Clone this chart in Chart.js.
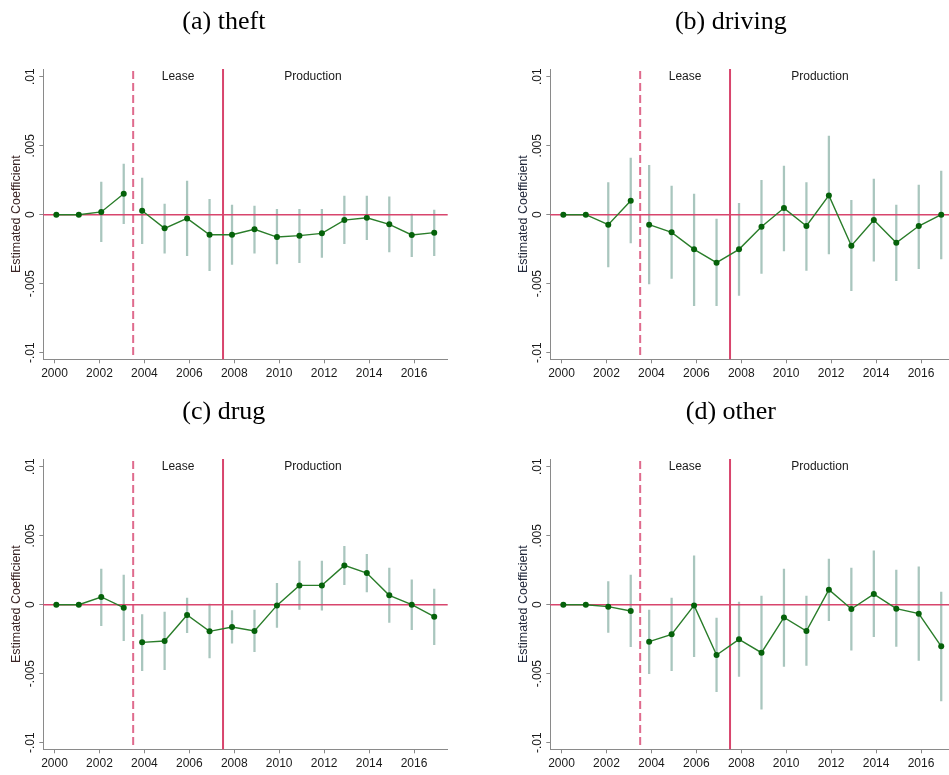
<!DOCTYPE html>
<html>
<head>
<meta charset="utf-8">
<script src="https://cdn.jsdelivr.net/npm/chart.js@4/dist/chart.umd.min.js"></script>
<style>
  html, body { margin: 0; padding: 0; background: #ffffff; overflow: hidden; width: 949px; height: 775px; }
  .panel { position: absolute; width: 475px; height: 390px; }
  canvas { display: block; }
</style>
</head>
<body>
<div class="panel" style="left:0px;top:0px"><canvas id="theft" width="475" height="390"></canvas></div>
<div class="panel" style="left:507px;top:0px"><canvas id="driving" width="475" height="390"></canvas></div>
<div class="panel" style="left:0px;top:390px"><canvas id="drug" width="475" height="390"></canvas></div>
<div class="panel" style="left:507px;top:390px"><canvas id="other" width="475" height="390"></canvas></div>
<script>
// Event-time positions of each estimate (pre-lease years, then lease/production years)
const eventX = [2000.08, 2001.08, 2002.08, 2003.08,
  2003.9, 2004.9, 2005.9, 2006.9, 2007.9, 2008.9, 2009.9, 2010.9, 2011.9,
  2012.9, 2013.9, 2014.9, 2015.9, 2016.9];
const preCount = 4;

const xTickYears = [2000, 2002, 2004, 2006, 2008, 2010, 2012, 2014, 2016];
const yTickValues = [-0.01, -0.005, 0, 0.005, 0.01];
const yTickLabels = ['-.01', '-.005', '0', '.005', '.01'];

const leaseStart = 2003.5;
const productionStart = 2007.5;
const leaseLabelX = 2005.5;
const productionLabelX = 2011.5;
const phaseLabelLevel = 0.01;

// (a) theft
const theftCoef = [0, 0, 0.0002, 0.00152, 0.00029, -0.00099, -0.00027, -0.00145, -0.00145, -0.00106, -0.00162, -0.00152, -0.00135, -0.00039, -0.00022, -0.0007, -0.00147, -0.0013];
const theftLo = [null, null, -0.00196, -0.00065, -0.0021, -0.00278, -0.00297, -0.00406, -0.0036, -0.00278, -0.00357, -0.00348, -0.00309, -0.0021, -0.00181, -0.0027, -0.00304, -0.00297];
const theftHi = [null, null, 0.00237, 0.00367, 0.00266, 0.00077, 0.00244, 0.00111, 0.0007, 0.00063, 0.00039, 0.00039, 0.00039, 0.00135, 0.00135, 0.0013, 0.00005, 0.00034];

// (b) driving
const drivingCoef = [0, 0, -0.00072, 0.00101, -0.00072, -0.00128, -0.00251, -0.00348, -0.00251, -0.00087, 0.00048, -0.00082, 0.0014, -0.00225, -0.00039, -0.00203, -0.00082, 0];
const drivingLo = [null, null, -0.00379, -0.00205, -0.00502, -0.00461, -0.00659, -0.00659, -0.00585, -0.00425, -0.00263, -0.00403, -0.00285, -0.00551, -0.00336, -0.00478, -0.00391, -0.00321];
const drivingHi = [null, null, 0.00232, 0.00411, 0.00357, 0.00208, 0.0015, -0.00031, 0.00082, 0.00249, 0.00353, 0.00232, 0.0057, 0.00104, 0.00258, 0.0007, 0.00215, 0.00316];

// (c) drug
const drugCoef = [0, 0, 0.00056, -0.00022, -0.00273, -0.00263, -0.00075, -0.00193, -0.00162, -0.00191, -0.00005, 0.0014, 0.0014, 0.00285, 0.00229, 0.00068, 0, -0.00087];
const drugLo = [null, null, -0.00152, -0.00261, -0.00478, -0.00471, -0.00203, -0.00386, -0.00278, -0.00341, -0.00164, -0.00034, -0.00039, 0.00145, 0.00092, -0.00128, -0.00181, -0.0029];
const drugHi = [null, null, 0.00258, 0.00215, -0.00072, -0.00053, 0.00048, 0.00005, -0.00043, -0.00039, 0.00155, 0.00316, 0.00316, 0.00423, 0.00365, 0.00266, 0.00181, 0.00114];

// (d) other
const otherCoef = [0, 0, -0.00014, -0.00046, -0.00268, -0.00215, -0.00005, -0.00365, -0.00251, -0.00348, -0.00092, -0.00191, 0.00109, -0.00031, 0.00077, -0.00029, -0.00065, -0.00302];
const otherLo = [null, null, -0.002, -0.00304, -0.005, -0.00478, -0.00377, -0.0063, -0.00519, -0.00758, -0.00447, -0.0044, -0.00116, -0.00329, -0.00232, -0.00302, -0.00403, -0.00698];
const otherHi = [null, null, 0.00167, 0.00215, -0.00039, 0.00048, 0.00355, -0.00097, 0.00019, 0.00063, 0.00258, 0.00063, 0.00331, 0.00266, 0.00391, 0.00251, 0.00275, 0.00092];

const SANS = '"Liberation Sans", Arial, Helvetica, sans-serif';
const SERIF = '"Liberation Serif", "Times New Roman", Times, serif';
const AXIS_GREY = '#8a8a8a';
const REF_RED = '#d8456d';
const REF_RED_DASH = '#df6b8d';
const LINE_GREEN = '#2a7d2a';
const POINT_GREEN = '#05620a';
const CI_COLOUR = '#a9c6be';

// Reference lines, rotated y tick labels and phase captions
const eventStudyDecor = {
  id: 'eventStudyDecor',
  beforeDatasetDraw(chart, args) {
    if (args.index !== 2) return;
    const { ctx, chartArea: a, scales: { x, y } } = chart;
    ctx.save();
    // vertical phase markers
    ctx.strokeStyle = REF_RED_DASH;
    ctx.lineWidth = 2;
    ctx.setLineDash([8, 4]);
    const xl = x.getPixelForValue(leaseStart);
    ctx.beginPath(); ctx.moveTo(xl, a.top + 2); ctx.lineTo(xl, a.bottom); ctx.stroke();
    ctx.setLineDash([]);
    ctx.strokeStyle = REF_RED;
    const xp = x.getPixelForValue(productionStart);
    ctx.beginPath(); ctx.moveTo(xp, a.top); ctx.lineTo(xp, a.bottom); ctx.stroke();
    // zero line
    ctx.lineWidth = 1.5;
    const y0 = y.getPixelForValue(0);
    ctx.beginPath(); ctx.moveTo(a.left, y0); ctx.lineTo(a.right, y0); ctx.stroke();
    ctx.restore();
  },
  afterDraw(chart) {
    const { ctx, scales: { x, y } } = chart;
    ctx.save();
    ctx.fillStyle = '#1a1a1a';
    ctx.font = '12px ' + SANS;
    ctx.textAlign = 'center';
    ctx.textBaseline = 'middle';
    const lx = y.right - 4 - 3 - 6;
    yTickValues.forEach((v, i) => {
      ctx.save();
      ctx.translate(lx, y.getPixelForValue(v));
      ctx.rotate(-Math.PI / 2);
      ctx.fillText(yTickLabels[i], 0, 0);
      ctx.restore();
    });
    const ly = y.getPixelForValue(phaseLabelLevel);
    ctx.fillText('Lease', x.getPixelForValue(leaseLabelX), ly);
    ctx.fillText('Production', x.getPixelForValue(productionLabelX), ly);
    ctx.restore();
  }
};

function buildPanel(canvasId, title, coef, lo, hi, titleColour) {
  const pts = eventX.map((x, i) => ({ x: x, y: coef[i] }));
  const ci = eventX.map((x, i) => ({ x: x, y: (lo[i] === null ? null : [lo[i], hi[i]]) }));
  new Chart(document.getElementById(canvasId), {
    type: 'line',
    data: {
      datasets: [
        {
          type: 'bar', data: ci, order: 3,
          backgroundColor: CI_COLOUR, borderWidth: 0,
          barThickness: 1.6, grouped: false
        },
        {
          type: 'line', data: pts.slice(0, preCount), order: 1,
          borderColor: LINE_GREEN, borderWidth: 1.4,
          pointRadius: 3, pointBackgroundColor: POINT_GREEN, pointBorderColor: POINT_GREEN,
          pointBorderWidth: 0, tension: 0
        },
        {
          type: 'line', data: pts.slice(preCount), order: 2,
          borderColor: LINE_GREEN, borderWidth: 1.4,
          pointRadius: 3, pointBackgroundColor: POINT_GREEN, pointBorderColor: POINT_GREEN,
          pointBorderWidth: 0, tension: 0
        }
      ]
    },
    options: {
      responsive: false,
      animation: false,
      devicePixelRatio: 1,
      events: [],
      layout: { padding: { left: 0, right: 27.3, top: 0, bottom: 0 } },
      plugins: {
        legend: { display: false },
        tooltip: { enabled: false },
        title: {
          display: true, text: title, color: '#000000',
          font: { family: SERIF, size: 26, weight: 'normal', lineHeight: 1.2 },
          padding: { top: 7, bottom: 30.8 }
        }
      },
      scales: {
        x: {
          type: 'linear', min: 1999.5, max: 2017.5, offset: false,
          afterBuildTicks: s => { s.ticks = xTickYears.map(v => ({ value: v })); },
          afterFit: s => { s.height = 30.7; },
          ticks: {
            color: '#1a1a1a', font: { family: SANS, size: 12 }, padding: 3,
            maxRotation: 0, autoSkip: false, callback: v => String(v)
          },
          grid: { drawOnChartArea: false, drawTicks: true, tickLength: 4, color: AXIS_GREY, offset: false },
          border: { display: true, color: AXIS_GREY, width: 1 }
        },
        y: {
          type: 'linear', min: -0.01048, max: 0.01056,
          afterBuildTicks: s => { s.ticks = yTickValues.map(v => ({ value: v })); },
          afterFit: s => { s.width = 43.3; },
          ticks: { display: false },
          grid: { drawOnChartArea: false, drawTicks: true, tickLength: 4, color: AXIS_GREY },
          border: { display: true, color: AXIS_GREY, width: 1 },
          title: {
            display: true, text: 'Estimated Coefficient', color: titleColour,
            font: { family: SANS, size: 12.5, lineHeight: 1.2 },
            padding: { top: 9, bottom: 0 }
          }
        }
      }
    },
    plugins: [eventStudyDecor]
  });
}

buildPanel('theft', '(a) theft', theftCoef, theftLo, theftHi, '#3a2424');
buildPanel('driving', '(b) driving', drivingCoef, drivingLo, drivingHi, '#232a3c');
buildPanel('drug', '(c) drug', drugCoef, drugLo, drugHi, '#3a2424');
buildPanel('other', '(d) other', otherCoef, otherLo, otherHi, '#232a3c');
</script>
</body>
</html>
